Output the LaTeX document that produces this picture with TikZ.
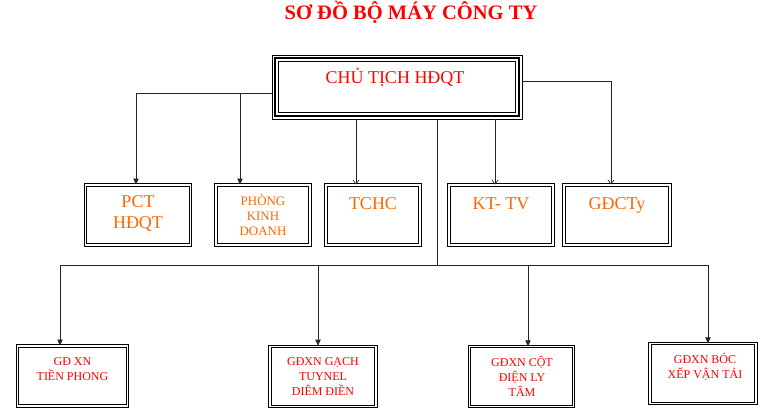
\documentclass[tikz,border=0pt]{standalone}
\usepackage{fontspec}
\setmainfont{Liberation Serif}
\usetikzlibrary{arrows.meta, positioning, calc}
\definecolor{titlered}{RGB}{255, 0, 0}
\definecolor{deptorange}{RGB}{255, 102, 0}

\begin{document}
\begin{tikzpicture}[x=0.75pt, y=-0.75pt,
  box/.style 2 args={draw, double, double distance=0.9pt, line width=0.7pt, inner sep=0pt, minimum width=#1, minimum height=#2},
  wire/.style={line width=0.5pt, black!85},
  arr/.style={wire, -{Triangle[length=4.5pt, width=4pt]}},
  openarr/.style={wire, -{Straight Barb[length=3pt, width=4.5pt]}},
  midtxt/.style={text=deptorange, font=\fontsize{13.5}{16}\selectfont, align=center, inner sep=0pt},
  lowtxt/.style={text=titlered, font=\fontsize{9}{11.25}\selectfont, align=center, inner sep=0pt}]
  \useasboundingbox (0,0) rectangle (768,415);

  % Title
  \node[font=\fontsize{15.4}{18}\selectfont\bfseries, text=titlered, anchor=base] (title) at (411,19) {SƠ ĐỒ BỘ MÁY CÔNG TY};

  % Chairman
  \node[draw, line width=0.6pt, minimum width=187.5pt, minimum height=48pt] (chair) at (397,87) {};
  \draw[line width=1.5pt] ([shift={(3.5,3.5)}]chair.north west) rectangle ([shift={(-3.5,-3.5)}]chair.south east);
  \draw[line width=0.6pt] ([shift={(7,7)}]chair.north west) rectangle ([shift={(-7,-7)}]chair.south east);
  \node[text=titlered, font=\fontsize{13.5}{16}\selectfont, anchor=base] (chair-t) at (395,83) {CHỦ TỊCH HĐQT};

  % Departments
  \node[box={79pt}{45pt}] (pct) at (138,215) {};
  \node[midtxt] (pct-t) at (138,213.5) {PCT\\HĐQT};
  \node[box={70.5pt}{45pt}] (phong) at (263,215) {};
  \node[midtxt, font=\fontsize{9.7}{10.9}\selectfont] (phong-t) at (263,215) {PHÒNG\\KINH\\DOANH};
  \node[box={70.5pt}{45pt}] (tchc) at (373,215) {};
  \node[midtxt, anchor=base] (tchc-t) at (373,209) {TCHC};
  \node[box={78pt}{45pt}] (kttv) at (501,215) {};
  \node[midtxt, anchor=base] (kttv-t) at (501,209) {KT- TV};
  \node[box={79.5pt}{45pt}] (gdcty) at (617,215) {};
  \node[midtxt, anchor=base] (gdcty-t) at (617,209) {GĐCTy};

  % Enterprises
  \node[box={83pt}{45pt}] (xn1) at (72.5,376) {};
  \node[lowtxt] (xn1-t) at (72.5,369.5) {GĐ XN\\TIỀN PHONG};
  \node[box={79.5pt}{45.5pt}] (xn2) at (323,376.5) {};
  \node[lowtxt] (xn2-t) at (323,377) {GĐXN GẠCH\\TUYNEL\\DIÊM ĐIỀN};
  \node[box={78.5pt}{44.5pt}] (xn3) at (521.5,376.5) {};
  \node[lowtxt] (xn3-t) at (522,376) {GĐXN CỘT\\ĐIỆN LY\\TÂM};
  \node[box={79.5pt}{44.5pt}] (xn4) at (703,373.5) {};
  \node[lowtxt] (xn4-t) at (705,366.5) {GĐXN BÓC\\XẾP VẬN TẢI};

  % Connectors
  \coordinate (jl) at (136,93);
  \coordinate (jp) at (240,93);
  \coordinate (jr) at (611,81);
  \coordinate (jt) at (356,0);
  \coordinate (jk) at (495,0);
  \coordinate (bus) at (437,265);
  \coordinate (bl) at (60,265);
  \coordinate (br) at (708,265);
  \coordinate (b2) at (318,265);
  \coordinate (b3) at (528,265);

  \draw[wire] (chair.west |- jl) -- (jl);
  \draw[arr] (jl) -- (jl |- pct.north);
  \draw[arr] (jp) -- (jp |- phong.north);
  \draw[wire] (chair.east |- jr) -- (jr);
  \draw[openarr] (jr) -- (jr |- gdcty.north);
  \draw[openarr] (chair.south -| jt) -- (tchc.north -| jt);
  \draw[openarr] (chair.south -| jk) -- (kttv.north -| jk);
  \draw[wire] (chair.south -| bus) -- (bus);
  \draw[wire] (bl) -- (br);
  \draw[arr] (bl) -- (bl |- xn1.north);
  \draw[arr] (b2) -- (b2 |- xn2.north);
  \draw[arr] (b3) -- (b3 |- xn3.north);
  \draw[arr] (br) -- (br |- xn4.north);
\end{tikzpicture}
\end{document}
